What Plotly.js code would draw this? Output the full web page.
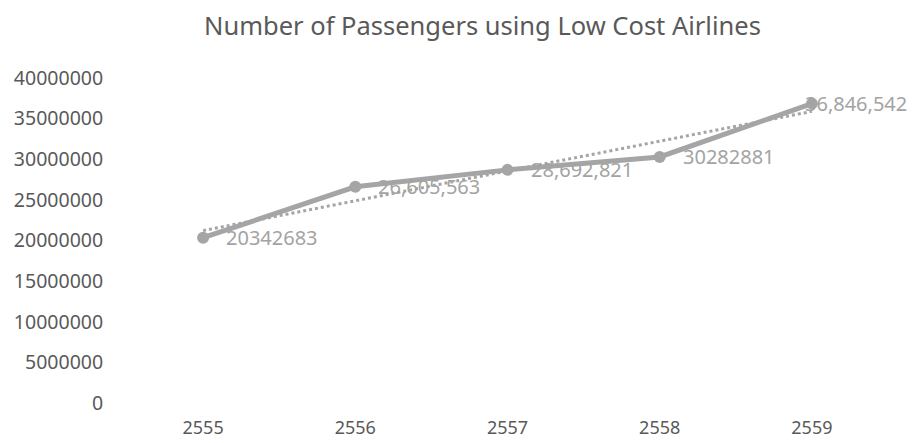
<!DOCTYPE html>
<html>
<head>
<meta charset="utf-8">
<script src="https://cdn.plot.ly/plotly-3.0.1.min.js"></script>
<style>html,body{margin:0;padding:0;background:#fff;}#chart{width:912px;height:443px;}</style>
</head>
<body>
<div id="chart"></div>
<script>
// Data
const years = ["2555", "2556", "2557", "2558", "2559"];
const passengers = [20342683, 26605563, 28692821, 30282881, 36846542];
const pointLabels = ["20342683", "26,605,563", "28,692,821", "30282881", "36,846,542"];
const yTickVals = [0, 5000000, 10000000, 15000000, 20000000, 25000000, 30000000, 35000000, 40000000];
const yTickText = ["0", "5000000", "10000000", "15000000", "20000000", "25000000", "30000000", "35000000", "40000000"];

// Linear trendline (least squares over the category index), as in the source chart
const n = passengers.length;
const idx = passengers.map((_, i) => i);
const mx = idx.reduce((a, b) => a + b, 0) / n;
const my = passengers.reduce((a, b) => a + b, 0) / n;
let sxy = 0, sxx = 0;
idx.forEach((x, i) => { sxy += (x - mx) * (passengers[i] - my); sxx += (x - mx) * (x - mx); });
const slope = sxy / sxx, intercept = my - slope * mx;
const trend = idx.map(x => intercept + slope * x);

const font = "Noto Sans, Open Sans, Liberation Sans, sans-serif";
const grey = "#a5a5a5";

const traces = [
  {
    x: years, y: trend, type: "scatter", mode: "lines",
    line: {color: grey, width: 3, dash: "dot"},
    hoverinfo: "skip", showlegend: false
  },
  {
    x: years, y: passengers, type: "scatter", mode: "lines+markers",
    line: {color: grey, width: 5},
    marker: {color: grey, size: 12},
    showlegend: false
  }
];

// Data labels placed to the right of each point (last one kept inside the frame)
const annotations = idx.map(i => {
  const last = i === years.length - 1;
  return {
    x: i, y: passengers[i], xref: "x", yref: "y",
    text: pointLabels[i], showarrow: false,
    xanchor: last ? "right" : "left", yanchor: "middle",
    xshift: last ? 97 : 21, yshift: 0,
    font: {family: font, size: 20, color: "#a3a3a3"}
  };
});

const layout = {
  width: 912, height: 443,
  margin: {l: 127, r: 24, t: 78, b: 40},
  paper_bgcolor: "#fff", plot_bgcolor: "#fff",
  title: {text: "Number of Passengers using Low Cost Airlines", x: 0.529, xanchor: "center", y: 0.942, yanchor: "middle",
          font: {family: font, size: 25.5, color: "#595959"}},
  xaxis: {type: "category", range: [-0.5, 4.5], showgrid: false, zeroline: false, showline: false,
          ticks: "outside", ticklen: 8, tickcolor: "rgba(0,0,0,0)",
          tickfont: {family: font, size: 18, color: "#595959"}},
  yaxis: {range: [0, 40000000], tickvals: yTickVals, ticktext: yTickText, showgrid: false, zeroline: false, showline: false,
          ticks: "outside", ticklen: 19, tickcolor: "rgba(0,0,0,0)",
          tickfont: {family: font, size: 19.5, color: "#595959"}},
  annotations: annotations,
  showlegend: false
};

Plotly.newPlot("chart", traces, layout, {staticPlot: true, displayModeBar: false});
</script>
</body>
</html>
